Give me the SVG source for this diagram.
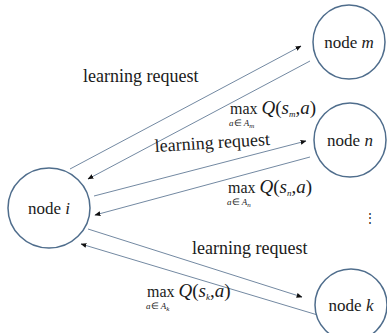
<svg xmlns="http://www.w3.org/2000/svg" width="387" height="333" viewBox="0 0 387 333">
  <style>
    .node ellipse { fill: #ffffff; stroke: #4f6d8c; stroke-width: 1.5; }
    .txt { font-family: "Liberation Serif", "Times New Roman", serif; fill: #1a1a1a; }
    .name { font-size: 17px; text-anchor: middle; }
    .req { font-size: 18px; }
    .q { font-size: 19px; }
    .max { font-size: 16px; }
    .sub { font-size: 9px; }
    .it { font-style: italic; }
    .conn line { stroke: #7389a2; stroke-width: 1; fill: none; }
  </style>
  <defs>
    <marker id="ah" viewBox="0 0 10 10" refX="9" refY="5" markerWidth="6" markerHeight="6" orient="auto" markerUnits="userSpaceOnUse">
      <path d="M0,1 L10,5 L0,9 Z" fill="#111"/>
    </marker>
  </defs>
  <rect width="387" height="333" fill="#ffffff"/>

  <!-- connectors: request / reply pairs between node i and its neighbours -->
  <g id="connectors" class="conn">
    <line x1="70" y1="169" x2="301" y2="46" marker-end="url(#ah)"/>
    <line x1="310" y1="61" x2="88" y2="179" marker-end="url(#ah)"/>
    <line x1="94" y1="196" x2="306" y2="141" marker-end="url(#ah)"/>
    <line x1="310" y1="157" x2="95" y2="215" marker-end="url(#ah)"/>
    <line x1="88" y1="229" x2="302" y2="297" marker-end="url(#ah)"/>
    <line x1="321" y1="316" x2="81" y2="244" marker-end="url(#ah)"/>
  </g>

  <!-- nodes -->
  <g id="node-i" class="node">
    <ellipse cx="49" cy="208" rx="41" ry="40"/>
    <text class="txt name" x="49" y="214" font-size="19">node <tspan class="it">i</tspan></text>
  </g>
  <g id="node-m" class="node">
    <ellipse cx="349" cy="42" rx="36" ry="37"/>
    <text class="txt name" x="349" y="48">node <tspan class="it">m</tspan></text>
  </g>
  <g id="node-n" class="node">
    <ellipse cx="350" cy="140" rx="36" ry="37"/>
    <text class="txt name" x="350" y="146">node <tspan class="it">n</tspan></text>
  </g>
  <g id="node-k" class="node">
    <ellipse cx="351" cy="305" rx="36" ry="36"/>
    <text class="txt name" x="351" y="311">node <tspan class="it">k</tspan></text>
  </g>

  <!-- edge labels -->
  <g id="labels">
    <text class="txt req" x="83" y="82">learning request</text>
    <text class="txt req" x="155" y="152" transform="rotate(-3.5 155 152)">learning request</text>
    <text class="txt req" x="192" y="254">learning request</text>

    <text class="txt" x="230" y="114"><tspan class="max">max</tspan> <tspan class="q it">Q</tspan><tspan class="q">(</tspan><tspan class="q it">s</tspan><tspan class="sub it" dy="3">m</tspan><tspan class="q" dy="-3">,</tspan><tspan class="q it">a</tspan><tspan class="q">)</tspan></text>
    <text class="txt sub" x="229" y="126"><tspan class="it">a</tspan>∈ <tspan class="it">A</tspan><tspan dy="2" font-size="7" class="it">m</tspan></text>

    <text class="txt" x="228" y="193"><tspan class="max">max</tspan> <tspan class="q it">Q</tspan><tspan class="q">(</tspan><tspan class="q it">s</tspan><tspan class="sub it" dy="3">n</tspan><tspan class="q" dy="-3">,</tspan><tspan class="q it">a</tspan><tspan class="q">)</tspan></text>
    <text class="txt sub" x="227" y="205"><tspan class="it">a</tspan>∈ <tspan class="it">A</tspan><tspan dy="2" font-size="7" class="it">n</tspan></text>

    <text class="txt" x="147" y="297"><tspan class="max">max</tspan> <tspan class="q it">Q</tspan><tspan class="q">(</tspan><tspan class="q it">s</tspan><tspan class="sub it" dy="3">k</tspan><tspan class="q" dy="-3">,</tspan><tspan class="q it">a</tspan><tspan class="q">)</tspan></text>
    <text class="txt sub" x="146" y="309"><tspan class="it">a</tspan>∈ <tspan class="it">A</tspan><tspan dy="2" font-size="7" class="it">k</tspan></text>

    <text class="txt" x="364" y="222" font-size="12" font-family="DejaVu Sans, sans-serif">⋮</text>
  </g>
</svg>
